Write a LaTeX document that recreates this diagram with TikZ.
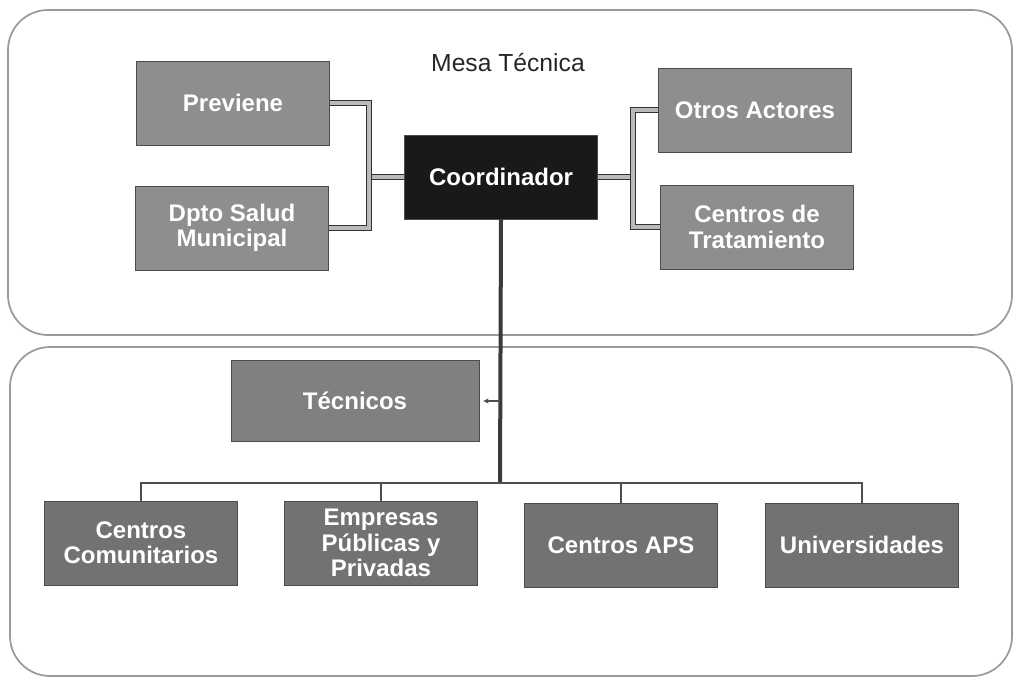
\documentclass[tikz,border=0pt]{standalone}
\usepackage{fontspec}
\setmainfont{Liberation Sans}
\usetikzlibrary{arrows.meta}
\definecolor{boxA}{HTML}{8E8E8E}
\definecolor{boxB}{HTML}{727272}
\definecolor{boxC}{HTML}{808080}
\definecolor{frameC}{HTML}{9A9A9A}
\definecolor{lineD}{HTML}{3A3A3A}
\tikzset{
  panel/.style={draw=frameC, line width=1.3pt, rounded corners=30pt},
  gbox/.style={draw=gray!60!black, line width=0.5pt, fill=boxA, text=white,
    font=\fontsize{18}{19}\selectfont\bfseries, align=center, inner sep=0pt,
    minimum width=144.75pt, minimum height=63pt},
  dbox/.style={gbox, fill=boxB},
  blackbox/.style={gbox, fill=black!90},
  bracket/.style={draw=gray!40!black, double=gray!55, line width=0.7pt, double distance=2.8pt},
  trunk/.style={draw=lineD, line width=3pt},
  bus/.style={draw=lineD!90, line width=2pt},
}
\begin{document}
\begin{tikzpicture}[x=0.75pt,y=-0.75pt]
\useasboundingbox (0,0) rectangle (1013,678);
\draw[panel] (8,10) rectangle (1012,335);
\draw[panel] (10,347) rectangle (1012,676);
\node[font=\fontsize{18.5}{20}\selectfont, text=black!85] (mesa) at (508,63) {Mesa Técnica};
\node[gbox] (prev) at (233,103) {Previene};
\node[gbox] (dpto) at (232,228) {Dpto Salud\\Municipal};
\node[blackbox] (coord) at (501,177) {Coordinador};
\node[gbox] (otros) at (755,110) {Otros Actores};
\node[gbox] (trat) at (757,227) {Centros de\\Tratamiento};
\node[gbox, fill=boxC, minimum width=186pt, minimum height=60.75pt] (tec) at (355,401) {Técnicos};
\node[dbox] (cc) at (141,543) {Centros\\Comunitarios};
\node[dbox] (emp) at (381,543) {Empresas\\Públicas y\\Privadas};
\node[dbox] (aps) at (621,545) {Centros APS};
\node[dbox] (uni) at (862,545) {Universidades};
\coordinate (lb) at (369,177);
\coordinate (rb) at (633,177);
\coordinate (tj) at (500,401);
\coordinate (busc) at (500,483);
\draw[bracket] (coord.west) -- (lb);
\draw[bracket] (prev.east) -| (lb) |- (dpto.east);
\draw[bracket] (coord.east) -- (rb);
\draw[bracket] (otros.west) -| (rb) |- (trat.west);
\draw[trunk] (coord.south) -- (busc);
\draw[bus, -{Stealth[length=4pt,width=4pt]}] (tj) -- ([xshift=3pt]tec.east);
\draw[bus] (busc) -| (cc.north);
\draw[bus] (busc) -| (emp.north);
\draw[bus] (busc) -| (aps.north);
\draw[bus] (busc) -| (uni.north);
\end{tikzpicture}
\end{document}
